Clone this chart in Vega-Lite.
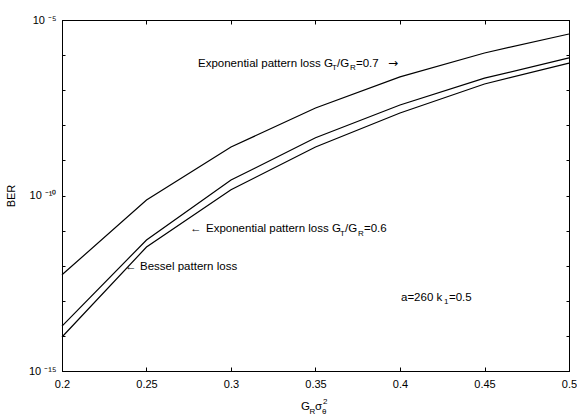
{
  "$schema": "https://vega.github.io/schema/vega-lite/v6.json",
  "width": 507,
  "height": 351,
  "autosize": "none",
  "padding": {"left": 62, "top": 20, "right": 8, "bottom": 48},
  "background": "white",
  "config": {
    "view": {"stroke": "black", "strokeWidth": 1},
    "axis": {
      "domainColor": "black", "tickColor": "black", "labelColor": "black", "titleColor": "black",
      "labelFont": "Liberation Sans", "titleFont": "Liberation Sans", "labelFontSize": 11, "titleFontSize": 11,
      "titleFontWeight": "normal", "grid": false
    },
    "text": {"font": "Liberation Sans", "color": "black"}
  },
  "datasets": {
    "curves": [
      {"g": 0.2, "ber": 5.5e-13, "series": "Exponential 0.7"},
      {"g": 0.25, "ber": 7.4e-11, "series": "Exponential 0.7"},
      {"g": 0.3, "ber": 2.4e-9, "series": "Exponential 0.7"},
      {"g": 0.35, "ber": 3.1e-8, "series": "Exponential 0.7"},
      {"g": 0.4, "ber": 2.4e-7, "series": "Exponential 0.7"},
      {"g": 0.45, "ber": 1.15e-6, "series": "Exponential 0.7"},
      {"g": 0.5, "ber": 4.0e-6, "series": "Exponential 0.7"},
      {"g": 0.2, "ber": 1.9e-14, "series": "Exponential 0.6"},
      {"g": 0.25, "ber": 5.4e-12, "series": "Exponential 0.6"},
      {"g": 0.3, "ber": 2.75e-10, "series": "Exponential 0.6"},
      {"g": 0.35, "ber": 4.4e-9, "series": "Exponential 0.6"},
      {"g": 0.4, "ber": 3.8e-8, "series": "Exponential 0.6"},
      {"g": 0.45, "ber": 2.2e-7, "series": "Exponential 0.6"},
      {"g": 0.5, "ber": 8.3e-7, "series": "Exponential 0.6"},
      {"g": 0.2, "ber": 9.3e-15, "series": "Bessel"},
      {"g": 0.25, "ber": 3.4e-12, "series": "Bessel"},
      {"g": 0.3, "ber": 1.45e-10, "series": "Bessel"},
      {"g": 0.35, "ber": 2.4e-9, "series": "Bessel"},
      {"g": 0.4, "ber": 2.24e-8, "series": "Bessel"},
      {"g": 0.45, "ber": 1.5e-7, "series": "Bessel"},
      {"g": 0.5, "ber": 5.9e-7, "series": "Bessel"}
    ],
    "notesMain": [
      {"x": 0.28047, "y": 4.7e-7, "t": "Exponential pattern loss G"},
      {"x": 0.36272, "y": 4.7e-7, "t": "/G"},
      {"x": 0.37396, "y": 4.7e-7, "t": "=0.7"},
      {"x": 0.27574, "y": 9.1e-12, "t": "←"},
      {"x": 0.28520, "y": 9.1e-12, "t": "Exponential pattern loss G"},
      {"x": 0.36745, "y": 9.1e-12, "t": "/G"},
      {"x": 0.37869, "y": 9.1e-12, "t": "=0.6"},
      {"x": 0.23728, "y": 7.6e-13, "t": "←"},
      {"x": 0.24615, "y": 7.6e-13, "t": "Bessel pattern loss"},
      {"x": 0.40059, "y": 1.0e-13, "t": "a=260 k"},
      {"x": 0.42899, "y": 1.0e-13, "t": "=0.5"},
      {"x": 0.34142, "y": 7.7e-17, "t": "G"},
      {"x": 0.34970, "y": 7.7e-17, "t": "σ"}
    ],
    "notesArrow": [
      {"x": 0.39290, "y": 4.7e-7, "t": "→"}
    ],
    "notesSub": [
      {"x": 0.35976, "y": 4.7e-7, "t": "T"},
      {"x": 0.37041, "y": 4.7e-7, "t": "R"},
      {"x": 0.36449, "y": 9.1e-12, "t": "T"},
      {"x": 0.37514, "y": 9.1e-12, "t": "R"},
      {"x": 0.42603, "y": 1.0e-13, "t": "1"},
      {"x": 0.34645, "y": 7.7e-17, "t": "R"},
      {"x": 0.35384, "y": 7.7e-17, "t": "θ"}
    ],
    "notesSup": [
      {"x": 0.35444, "y": 7.7e-17, "t": "2"}
    ]
  },
  "resolve": {"axis": {"x": "independent", "y": "independent"}},
  "layer": [
    {
      "data": {"name": "curves"},
      "mark": {"type": "line", "color": "black", "strokeWidth": 1.2},
      "encoding": {
        "x": {"field": "g", "type": "quantitative",
          "scale": {"domain": [0.2, 0.5], "nice": false, "zero": false},
          "axis": {"orient": "bottom", "title": null, "values": [0.2, 0.25, 0.3, 0.35, 0.4, 0.45, 0.5], "format": "~g",
            "tickSize": -4, "labelPadding": 11, "labelOverlap": false, "labelFlush": false}},
        "y": {"field": "ber", "type": "quantitative",
          "scale": {"type": "log", "domain": [1e-15, 1e-5], "nice": false},
          "axis": {"orient": "left", "title": "BER", "titlePadding": 12,
            "values": [1e-15, 1e-14, 1e-13, 1e-12, 1e-11, 1e-10, 1e-9, 1e-8, 1e-7, 1e-6, 1e-5],
            "labelExpr": "round(log(datum.value)/LN10) == -5 ? '10 ⁻⁵' : round(log(datum.value)/LN10) == -10 ? '10 ⁻¹⁰' : round(log(datum.value)/LN10) == -15 ? '10 ⁻¹⁵' : ''",
            "tickSize": -3, "labelPadding": 9, "labelOverlap": false, "labelFlush": false}},
        "detail": {"field": "series", "type": "nominal"}
      }
    },
    {
      "data": {"name": "curves"},
      "mark": {"type": "line", "strokeOpacity": 0},
      "encoding": {
        "x": {"field": "g", "type": "quantitative",
          "axis": {"orient": "top", "title": null, "labels": false, "values": [0.2, 0.25, 0.3, 0.35, 0.4, 0.45, 0.5], "tickSize": -4}},
        "y": {"field": "ber", "type": "quantitative",
          "axis": {"orient": "right", "title": null, "labels": false,
            "values": [1e-15, 1e-14, 1e-13, 1e-12, 1e-11, 1e-10, 1e-9, 1e-8, 1e-7, 1e-6, 1e-5], "tickSize": -3}},
        "detail": {"field": "series", "type": "nominal"}
      }
    },
    {
      "data": {"name": "notesMain"},
      "mark": {"type": "text", "align": "left", "baseline": "alphabetic", "fontSize": 11.5},
      "encoding": {
        "x": {"field": "x", "type": "quantitative", "axis": null},
        "y": {"field": "y", "type": "quantitative", "axis": null},
        "text": {"field": "t"}
      }
    },
    {
      "data": {"name": "notesArrow"},
      "mark": {"type": "text", "align": "left", "baseline": "alphabetic", "fontSize": 12, "font": "DejaVu Sans"},
      "encoding": {
        "x": {"field": "x", "type": "quantitative", "axis": null},
        "y": {"field": "y", "type": "quantitative", "axis": null},
        "text": {"field": "t"}
      }
    },
    {
      "data": {"name": "notesSub"},
      "mark": {"type": "text", "align": "left", "baseline": "alphabetic", "fontSize": 8, "dy": 3.5},
      "encoding": {
        "x": {"field": "x", "type": "quantitative", "axis": null},
        "y": {"field": "y", "type": "quantitative", "axis": null},
        "text": {"field": "t"}
      }
    },
    {
      "data": {"name": "notesSup"},
      "mark": {"type": "text", "align": "left", "baseline": "alphabetic", "fontSize": 8, "dy": -6},
      "encoding": {
        "x": {"field": "x", "type": "quantitative", "axis": null},
        "y": {"field": "y", "type": "quantitative", "axis": null},
        "text": {"field": "t"}
      }
    }
  ]
}
